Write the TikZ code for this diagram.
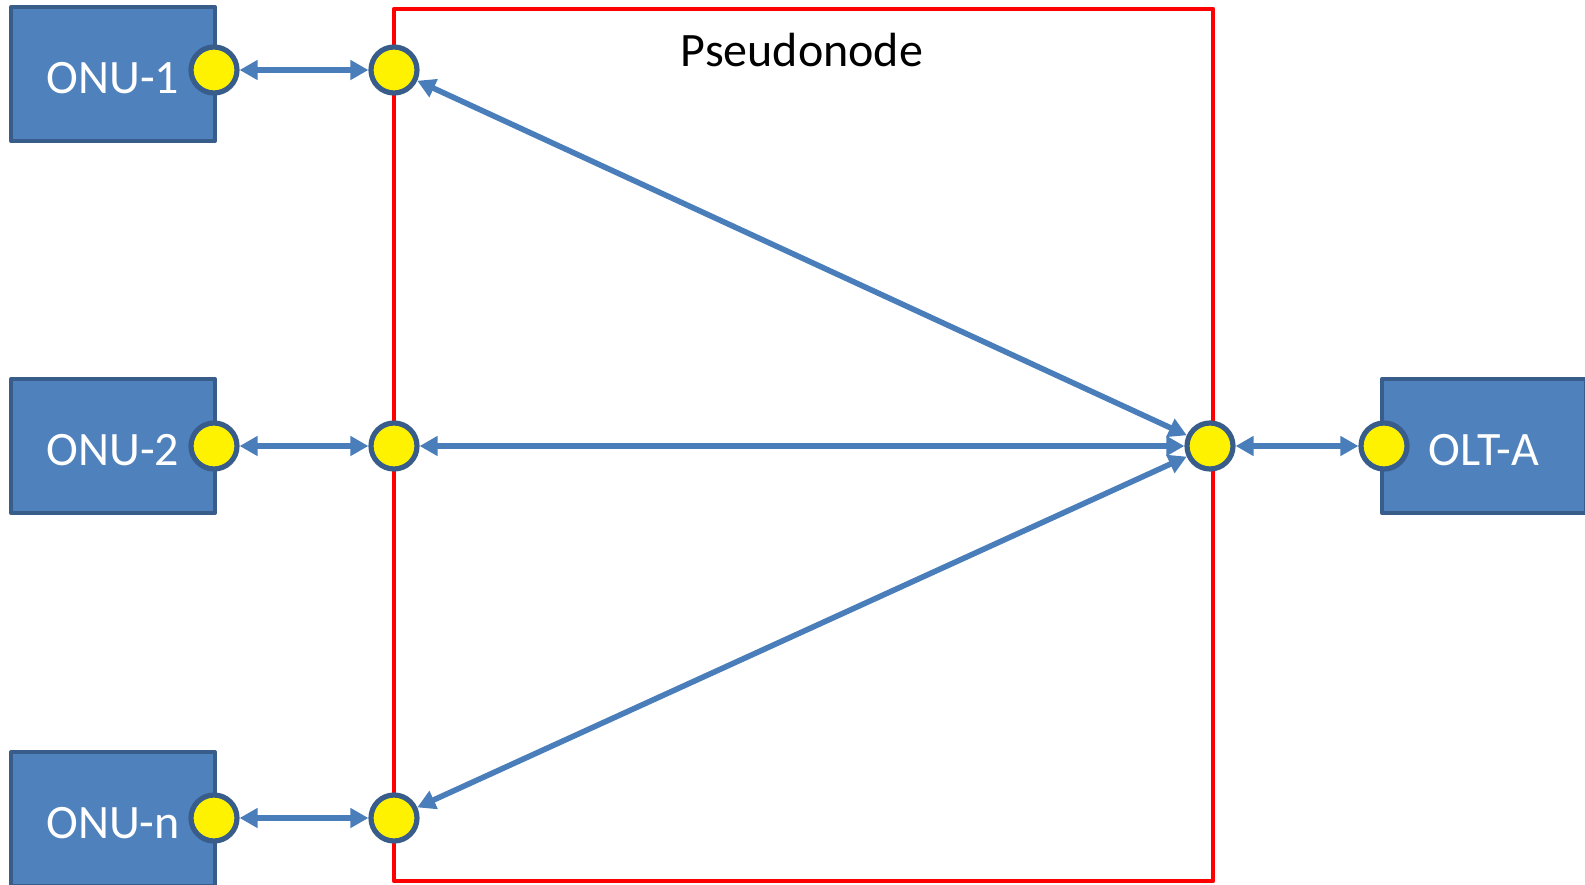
\documentclass[tikz,border=0pt]{standalone}
\usepackage{fontspec}
\setmainfont{Carlito}
\usetikzlibrary{arrows.meta}
\definecolor{boxfill}{HTML}{4F81BD}
\definecolor{boxline}{HTML}{385D8A}
\definecolor{linkblue}{HTML}{4A7EBB}
\tikzset{
  unitbox/.style={draw=boxline, fill=boxfill, line width=2pt, minimum width=102pt, minimum height=67pt, inner sep=0pt, text=white, text height=19.5pt, text depth=0pt, font=\fontsize{24}{28}\selectfont},
  port/.style={circle, draw=boxline, fill=yellow, line width=2.6pt, minimum size=23pt, inner sep=0pt},
  link/.style={draw=linkblue, line width=2.8pt, <->}
}
\begin{document}
\begin{tikzpicture}[x=0.5pt,y=-0.5pt,line join=round,>={Triangle[length=9pt,width=9.5pt]}]
\useasboundingbox (0,0) rectangle (1585,884);
\clip (0,0) rectangle (1585,884);
\draw[red, line width=2.2pt] (394,9) rectangle (1213,881);
\node[font=\fontsize{24}{28}\selectfont] (title) at (802,50) {Pseudonode};
\node[unitbox] (onu1) at (113,74) {ONU-1};
\node[unitbox] (onu2) at (113,446) {ONU-2};
\node[unitbox] (onun) at (113,819) {ONU-n};
\node[unitbox] (olt) at (1484,446) {OLT-A};
\node[port] (o1) at (214,70) {};
\node[port] (o2) at (214,446) {};
\node[port] (on) at (214,818) {};
\node[port] (oa) at (1384,446) {};
\node[port] (p1) at (394,70) {};
\node[port] (p2) at (394,446) {};
\node[port] (pn) at (394,818) {};
\node[port] (pr) at (1210,446) {};
\draw[link] (o1) -- (p1);
\draw[link] (o2) -- (p2);
\draw[link] (on) -- (pn);
\draw[link] (pr) -- (oa);
\draw[link] (p1) -- (pr);
\draw[link] (p2) -- (pr);
\draw[link] (pn) -- (pr);
\end{tikzpicture}
\end{document}
